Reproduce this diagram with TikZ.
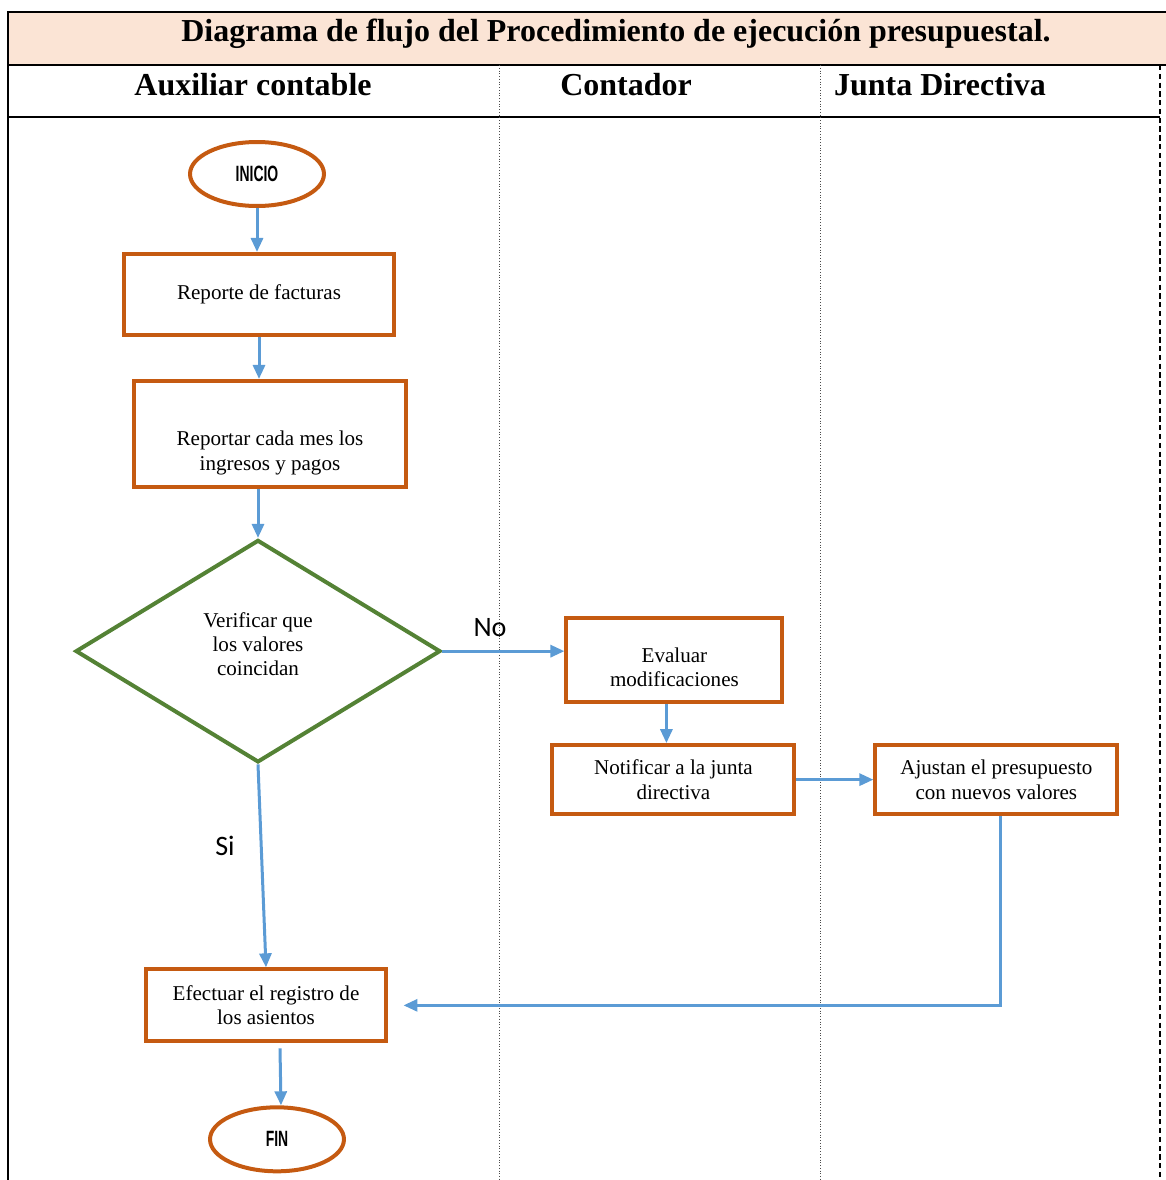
\documentclass[tikz,border=0pt]{standalone}
\usepackage{fontspec}
\setmainfont{Liberation Serif}
\newfontfamily\labelfont{Carlito}
\newfontfamily\termfont{Liberation Sans}
\usepackage{xcolor}
\usepackage{graphicx}
\usepackage{tikz}
\usetikzlibrary{positioning,shapes.geometric,arrows.meta}

\definecolor{boxorange}{HTML}{C55A11}
\definecolor{flowblue}{HTML}{5B9BD5}
\definecolor{decgreen}{HTML}{548235}
\definecolor{titlepeach}{HTML}{FBE4D5}

% narrow bold lettering for the start/end ovals
\newcommand{\termtext}[1]{\scalebox{0.63}[1]{\termfont\bfseries\fontsize{12.6}{14}\selectfont #1}}

\begin{document}
\begin{tikzpicture}[x=0.02cm, y=-0.02cm, node distance=0.9cm]
      \tikzstyle{block} = [rectangle, draw=boxorange, line width=0.08cm, align=center, inner sep=2pt, font=\fontsize{12}{14}\selectfont]
      \tikzstyle{terminal} = [ellipse, draw=boxorange, line width=0.08cm, minimum width=2.68cm, minimum height=1.28cm, inner sep=0pt]
      \tikzstyle{decision} = [diamond, draw=decgreen, line width=0.08cm, minimum width=7.3cm, minimum height=4.45cm, inner sep=0pt, align=center, font=\fontsize{12}{13.6}\selectfont]
      \tikzstyle{arrow} = [draw=flowblue, line width=0.06cm, -{Triangle[length=0.28cm, width=0.24cm]}]
      \tikzstyle{frame} = [line width=0.04cm]
      \tikzstyle{lane} = [gray!60!black, densely dotted, line width=0.02cm]
      \tikzstyle{header} = [font=\bfseries\fontsize{18.2}{20}\selectfont]
      \tikzstyle{answer} = [font=\labelfont\fontsize{16}{18}\selectfont, inner sep=0pt]
      \useasboundingbox (0,0) rectangle (1166,1180);

      % swimlane table
      \fill[titlepeach] (8,12) rectangle (1166,65);
      \draw[frame] (7,12) -- (1166,12);
      \draw[frame] (8,12) -- (8,1180);
      \draw[frame] (8,65) -- (1166,65);
      \draw[frame] (8,117) -- (1160,117);
      \draw[lane] (499,65) -- (499,1180);
      \draw[lane] (820,65) -- (820,1180);
      \draw[densely dashed, line width=0.025cm] (1160,65) -- (1160,1180);
      \node[header] (T) at (616,34) {Diagrama de flujo del Procedimiento de ejecución presupuestal.};
      \node[header] (H1) at (253,85) {Auxiliar contable};
      \node[header] (H2) at (626,85) {Contador};
      \node[header] (H3) at (940,85) {Junta Directiva};

      % flow
      \node[terminal] (A) at (257,174) {\termtext{INICIO}};
      \node[block, minimum width=5.4cm, minimum height=1.62cm, below=0.88cm of A, xshift=0.04cm] (B1) {Reporte de facturas};
      \node[block, minimum width=5.46cm, minimum height=2.12cm, below=0.84cm of B1, xshift=0.22cm] (B2) {\rule{0pt}{30pt}Reportar cada mes los\\ingresos y pagos};
      \node[decision, below=0.98cm of B2, xshift=-0.24cm] (D) {Verificar que\\los valores\\coincidan\rule[-8pt]{0pt}{8pt}};
      \node[block, minimum width=4.32cm, minimum height=1.68cm, right=2.44cm of D, yshift=-0.18cm] (E) {\rule{0pt}{16.5pt}Evaluar\\modificaciones};
      \node[block, minimum width=4.84cm, minimum height=1.38cm, below=0.78cm of E, xshift=-0.02cm] (N) {Notificar a la junta\\directiva};
      \node[block, minimum width=4.84cm, minimum height=1.38cm, right=1.54cm of N] (AJ) {Ajustan el presupuesto\\con nuevos valores};
      \node[block, minimum width=4.82cm, minimum height=1.44cm, below=4.06cm of D, xshift=0.16cm] (R) {Efectuar el registro de\\los asientos};
      \node[terminal, below=1.24cm of R, xshift=0.22cm] (F) {\termtext{FIN}};

      \draw[arrow] (A) -- (A |- B1.north);
      \draw[arrow] (B1.south) -- (B1.south |- B2.north);
      \draw[arrow] (B2.south -| D.north) -- (D.north);
      \draw[arrow] (D.east) -- node[answer, above=0.25cm, pos=0.39] (no) {No} (D.east -| E.west);
      \draw[arrow] ([xshift=-0.16cm]E.south) -- ([xshift=-0.16cm]E.south |- N.north);
      \draw[arrow] (N.east) -- (N.east -| AJ.west);
      \draw[arrow, shorten >=0.3cm] ([xshift=0.08cm]AJ.south) |- (R.east);
      \draw[arrow] (D.south) -- node[answer, left=0.5cm, pos=0.4] (si) {Si} (R.north);
      \draw[arrow] ([xshift=0.28cm,yshift=-0.1cm]R.south) -- ([xshift=0.08cm]F.north);
    \end{tikzpicture}
\end{document}
